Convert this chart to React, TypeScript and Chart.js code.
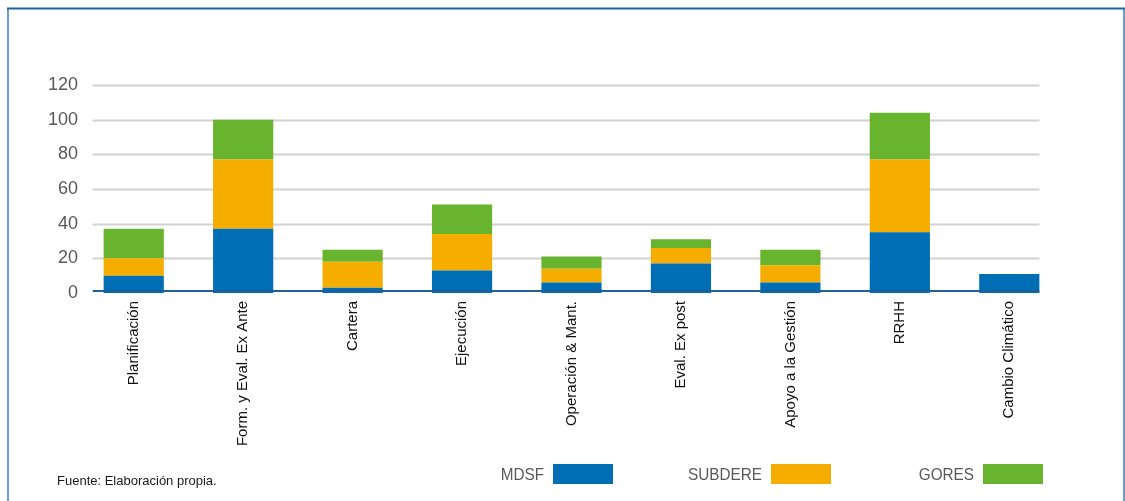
import React, { useEffect, useRef } from "react";
import { Chart, registerables } from "chart.js";

Chart.register(...registerables);

const categories = [
  "Planificación",
  "Form. y Eval. Ex Ante",
  "Cartera",
  "Ejecución",
  "Operación & Mant.",
  "Eval. Ex post",
  "Apoyo a la Gestión",
  "RRHH",
  "Cambio Climático",
];
const mdsf = [10, 37, 3, 13, 6, 17, 6, 35, 11];
const subdere = [10, 40, 15, 21, 8, 9, 10, 42, 0];
const gores = [17, 23, 7, 17, 7, 5, 9, 27, 0];
const seriesNames = ["MDSF", "SUBDERE", "GORES"];
const seriesColors = ["#006eb4", "#f5ae00", "#69b42f"];
const yTicks = [0, 20, 40, 60, 80, 100, 120];
const sourceNote = "Fuente: Elaboración propia.";

const NARROW = '"Liberation Sans Narrow", "Liberation Sans", Arial, sans-serif';
const SANS = '"Liberation Sans", Arial, sans-serif';

const decorPlugin = {
  id: "decor",
  beforeDatasetsDraw(chart: any) {
    const { ctx } = chart;
    const y = chart.scales.y;
    const meta = chart.getDatasetMeta(0);
    const first = meta.data[0];
    const last = meta.data[meta.data.length - 1];
    const x1 = first.x - first.width / 2 - 11;
    const x2 = last.x + last.width / 2;
    ctx.save();
    ctx.strokeStyle = "#d2d2d2";
    ctx.lineWidth = 2;
    yTicks.forEach((v) => {
      if (v === 0) return;
      const py = Math.round(y.getPixelForValue(v)) + 0.5;
      ctx.beginPath();
      ctx.moveTo(x1, py);
      ctx.lineTo(x2, py);
      ctx.stroke();
    });
    ctx.restore();
  },
  afterDatasetsDraw(chart: any) {
    const { ctx } = chart;
    const y = chart.scales.y;
    const meta = chart.getDatasetMeta(0);
    const first = meta.data[0];
    const last = meta.data[meta.data.length - 1];
    const x1 = first.x - first.width / 2 - 11;
    const x2 = last.x + last.width / 2;
    const py = y.getPixelForValue(0) - 2;
    ctx.save();
    ctx.strokeStyle = "#1f5f9b";
    ctx.lineWidth = 2;
    ctx.beginPath();
    ctx.moveTo(x1, py);
    ctx.lineTo(x2, py);
    ctx.stroke();
    ctx.restore();
  },
  afterDraw(chart: any) {
    const { ctx } = chart;
    ctx.save();
    // frame
    ctx.strokeStyle = "#6f9cc6";
    ctx.lineWidth = 2;
    ctx.beginPath();
    ctx.moveTo(8, 9);
    ctx.lineTo(8, 501);
    ctx.moveTo(1124, 9);
    ctx.lineTo(1124, 501);
    ctx.stroke();
    ctx.strokeStyle = "#1f64a0";
    ctx.lineWidth = 2;
    ctx.beginPath();
    ctx.moveTo(7, 8.5);
    ctx.lineTo(1125, 8.5);
    ctx.stroke();

    // legend (condensed text, right-aligned before each swatch)
    const boxX = [553, 771, 983];
    ctx.font = `17px ${NARROW}`;
    ctx.textAlign = "right";
    ctx.textBaseline = "middle";
    seriesNames.forEach((name, i) => {
      ctx.fillStyle = seriesColors[i];
      ctx.fillRect(boxX[i], 464, 60, 20);
      ctx.save();
      ctx.translate(boxX[i] - 9, 475);
      ctx.scale(0.9, 1);
      ctx.fillStyle = "#595959";
      ctx.fillText(name, 0, 0);
      ctx.restore();
    });

    // source
    ctx.font = `13px ${NARROW}`;
    ctx.textAlign = "left";
    ctx.fillStyle = "#1a1a1a";
    ctx.fillText(sourceNote, 57, 481);
    ctx.restore();
  },
};

export default function App() {
  const ref = useRef<HTMLCanvasElement | null>(null);
  useEffect(() => {
    document.body.style.margin = "0";
    if (!ref.current) return;
    const chart = new Chart(ref.current, {
      type: "bar",
      data: {
        labels: categories,
        datasets: [
          { label: seriesNames[0], data: mdsf, backgroundColor: seriesColors[0] },
          { label: seriesNames[1], data: subdere, backgroundColor: seriesColors[1] },
          { label: seriesNames[2], data: gores, backgroundColor: seriesColors[2] },
        ],
      },
      options: {
        responsive: false,
        animation: false,
        devicePixelRatio: 1,
        layout: { padding: { top: 85, right: 61, left: 0, bottom: 0 } },
        datasets: { bar: { categoryPercentage: 1, barPercentage: 0.55 } },
        plugins: { legend: { display: false }, tooltip: { enabled: false } },
        scales: {
          x: {
            stacked: true,
            grid: { display: false, drawTicks: false },
            border: { display: false },
            ticks: {
              minRotation: 90,
              maxRotation: 90,
              autoSkip: false,
              padding: 8,
              color: "#111111",
              font: { family: SANS, size: 15 },
            },
            afterFit(scale: any) {
              scale.height = 208;
            },
          },
          y: {
            stacked: true,
            min: 0,
            max: 120,
            grid: { display: false, drawTicks: false },
            border: { display: false },
            ticks: {
              stepSize: 20,
              padding: 1,
              color: "#595959",
              font: { family: NARROW, size: 18 },
            },
            afterFit(scale: any) {
              scale.width = 79;
            },
          },
        },
      },
      plugins: [decorPlugin],
    });
    return () => chart.destroy();
  }, []);
  return (
    <div style={{ width: 1125, height: 501, background: "#ffffff" }}>
      <canvas ref={ref} width={1125} height={501} style={{ width: 1125, height: 501, display: "block" }} />
    </div>
  );
}
